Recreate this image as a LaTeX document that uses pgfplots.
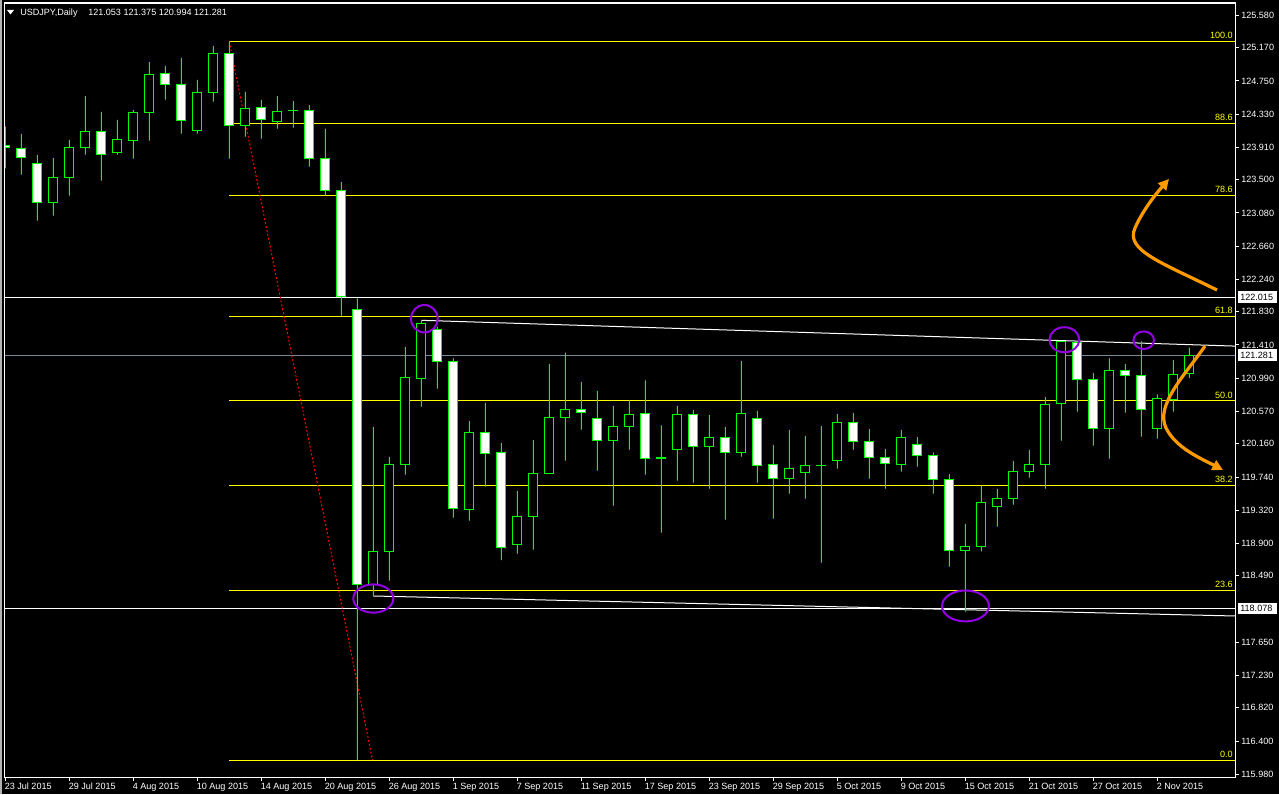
\documentclass[border=0pt]{standalone}
\usepackage{fontspec}
\setmainfont{Liberation Sans}
\usepackage{pgfplots}
\pgfplotsset{compat=1.18}
\usepackage{pgfplotstable}
\usetikzlibrary{arrows.meta}
\definecolor{mtgreen}{RGB}{0,255,0}
\definecolor{fibyellow}{RGB}{255,255,0}
\definecolor{bidgray}{RGB}{119,136,153}
\definecolor{circpurple}{RGB}{148,0,230}
\definecolor{arroworange}{RGB}{255,153,0}
\newcommand\tickfont{\fontsize{6.8}{8}\selectfont}

\pgfplotstableread{
k O H L C
0 123.936 124.171 123.645 123.902
1 123.898 124.079 123.564 123.784
2 123.708 123.813 122.982 123.215
3 123.215 123.775 123.045 123.531
4 123.531 124.003 123.298 123.910
5 123.910 124.559 123.817 124.113
6 124.113 124.357 123.488 123.822
7 123.847 124.256 123.817 124.012
8 123.999 124.382 123.766 124.353
9 124.353 124.989 123.994 124.834
10 124.846 124.939 124.512 124.707
11 124.707 125.040 124.082 124.252
12 124.125 124.762 124.082 124.606
13 124.606 125.192 124.487 125.099
14 125.099 125.248 123.766 124.189
15 124.189 124.610 124.044 124.404
16 124.416 124.509 124.019 124.265
17 124.239 124.559 124.146 124.366
18 124.370 124.496 124.158 124.376
19 124.378 124.445 123.665 123.771
20 123.771 124.142 123.298 123.366
21 123.366 123.471 121.780 122.021
22 121.861 122.000 116.160 118.383
23 118.383 120.372 118.235 118.800
24 118.795 119.993 118.428 119.901
25 119.901 121.384 119.769 121.001
26 120.984 121.722 120.629 121.684
27 121.608 121.641 120.857 121.204
28 121.204 121.242 119.225 119.342
29 119.332 120.448 119.188 120.306
30 120.306 120.676 119.617 120.040
31 120.053 120.170 118.690 118.851
32 118.889 119.563 118.770 119.243
33 119.243 120.208 118.821 119.787
34 119.787 121.169 119.780 120.495
35 120.495 121.309 119.946 120.596
36 120.591 120.942 120.338 120.559
37 120.483 120.828 119.820 120.204
38 120.204 120.638 119.377 120.381
39 120.381 120.710 120.085 120.533
40 120.546 120.963 119.769 119.977
41 119.980 120.394 119.036 119.988
42 120.091 120.638 119.693 120.533
43 120.533 120.588 119.668 120.123
44 120.123 120.524 119.592 120.242
45 120.242 120.372 119.200 120.048
46 120.048 121.207 119.997 120.546
47 120.483 120.575 119.668 119.883
48 119.901 120.145 119.213 119.719
49 119.719 120.335 119.529 119.850
50 119.795 120.259 119.466 119.888
51 119.880 120.385 118.656 119.886
52 119.951 120.537 119.845 120.432
53 120.432 120.550 120.085 120.192
54 120.192 120.347 119.719 119.989
55 119.989 120.094 119.592 119.913
56 119.901 120.335 119.807 120.242
57 120.154 120.246 119.870 120.015
58 120.015 120.053 119.529 119.711
59 119.711 119.778 118.606 118.813
60 118.813 119.146 118.036 118.864
61 118.864 119.635 118.800 119.420
62 119.370 119.588 119.112 119.471
63 119.471 119.943 119.390 119.812
64 119.812 120.082 119.731 119.901
65 119.901 120.752 119.592 120.660
66 120.672 121.460 120.199 121.457
67 121.444 121.448 120.566 120.976
68 120.976 121.056 120.136 120.356
69 120.356 121.242 119.972 121.090
70 121.090 121.169 120.553 121.027
71 121.027 121.457 120.250 120.596
72 120.356 120.786 120.225 120.736
73 120.723 121.220 120.566 121.039
74 121.053 121.375 120.994 121.281
}\candles

\pgfplotsset{base/.style={scale only axis, width=923.25pt, height=580.5pt,
  xmin=-0.08125, xmax=76.85625, ymin=115.9455, ymax=125.7356,
  at={(3pt,12.75pt)}, anchor=south west}}
\tikzset{fiblabel/.style={anchor=south east, inner sep=0pt, font=\tickfont, text=fibyellow, yshift=1.8pt}}

\begin{document}
\begin{tikzpicture}
\useasboundingbox (0,0) rectangle (959.25pt,595.5pt);
\fill[black] (0,0) rectangle (959.25pt,595.5pt);
\fill[black!30] (0,0) rectangle (1.5pt,595.5pt);

% axis 1: levels, lines, ticks
\begin{axis}[base,
  axis line style={white, line width=0.75pt},
  tick style={white, line width=0.75pt},
  tick align=outside, major tick length=3pt,
  xtick pos=left, ytick pos=right, xticklabel pos=left, yticklabel pos=right,
  xtick={0,4,...,72},
  xticklabels={23 Jul 2015, 29 Jul 2015, 4 Aug 2015, 10 Aug 2015, 14 Aug 2015, 20 Aug 2015, 26 Aug 2015, 1 Sep 2015, 7 Sep 2015, 11 Sep 2015, 17 Sep 2015, 23 Sep 2015, 29 Sep 2015, 5 Oct 2015, 9 Oct 2015, 15 Oct 2015, 21 Oct 2015, 27 Oct 2015, 2 Nov 2015},
  ytick={125.58,125.17,124.75,124.33,123.91,123.50,123.08,122.66,122.24,121.83,121.41,120.99,120.57,120.16,119.74,119.32,118.90,118.49,117.65,117.23,116.82,116.40,115.98},
  yticklabels={125.580,125.170,124.750,124.330,123.910,123.500,123.080,122.660,122.240,121.830,121.410,120.990,120.570,120.160,119.740,119.320,118.900,118.490,117.650,117.230,116.820,116.400,115.980},
  xticklabel style={anchor=north west, inner sep=0pt, font=\tickfont, text=white, xshift=-0.6pt, yshift=-1.5pt},
  yticklabel style={anchor=west, inner sep=0pt, font=\tickfont, text=white, xshift=1.5pt},
]
% horizontal lines
\addplot[white, line width=0.75pt] coordinates {(-0.08125,122.015) (76.85625,122.015)};
\addplot[white, line width=0.75pt] coordinates {(-0.08125,118.078) (76.85625,118.078)};
\addplot[bidgray, line width=0.75pt] coordinates {(-0.08125,121.281) (76.85625,121.281)};
% trend lines
\addplot[white, line width=0.75pt] coordinates {(26,121.722) (76.85625,121.396)};
\addplot[white, line width=0.75pt] coordinates {(23,118.235) (76.85625,117.982)};
% fibonacci levels
\addplot[fibyellow, line width=0.75pt] coordinates {(14,125.248) (76.85625,125.248)};
\addplot[fibyellow, line width=0.75pt] coordinates {(14,124.212) (76.85625,124.212)};
\addplot[fibyellow, line width=0.75pt] coordinates {(14,123.303) (76.85625,123.303)};
\addplot[fibyellow, line width=0.75pt] coordinates {(14,121.776) (76.85625,121.776)};
\addplot[fibyellow, line width=0.75pt] coordinates {(14,120.704) (76.85625,120.704)};
\addplot[fibyellow, line width=0.75pt] coordinates {(14,119.632) (76.85625,119.632)};
\addplot[fibyellow, line width=0.75pt] coordinates {(14,118.305) (76.85625,118.305)};
\addplot[fibyellow, line width=0.75pt] coordinates {(14,116.160) (76.85625,116.160)};
\addplot[red, line width=0.75pt, dash pattern=on 1.5pt off 1.5pt] coordinates {(14,125.248) (22.95,116.160)};
\node[fiblabel] at (axis cs:76.73,125.248) {100.0};
\node[fiblabel] at (axis cs:76.73,124.212) {88.6};
\node[fiblabel] at (axis cs:76.73,123.303) {78.6};
\node[fiblabel] at (axis cs:76.73,121.776) {61.8};
\node[fiblabel] at (axis cs:76.73,120.704) {50.0};
\node[fiblabel] at (axis cs:76.73,119.632) {38.2};
\node[fiblabel] at (axis cs:76.73,118.305) {23.6};
\node[fiblabel] at (axis cs:76.73,116.160) {0.0};
\end{axis}

% axis 2: wicks
\begin{axis}[base, hide axis, ybar stacked, bar width=0.75pt]
\addplot[draw=none, fill=none] table[x=k, y=L]{\candles};
\addplot[draw=none, fill=mtgreen] table[x=k, y expr={\thisrow{H}-\thisrow{L}}]{\candles};
\end{axis}

% axis 3: bodies
\begin{axis}[base, hide axis, ybar stacked, bar width=7pt]
\addplot[draw=none, fill=none] table[x=k, y expr={min(\thisrow{O},\thisrow{C})}]{\candles};
\addplot[draw=mtgreen, fill=black, line width=0.75pt] table[x=k, y expr={max(\thisrow{C}-\thisrow{O},0)}]{\candles};
\addplot[draw=mtgreen, fill=white, line width=0.75pt] table[x=k, y expr={max(\thisrow{O}-\thisrow{C},0)}]{\candles};
\end{axis}

% axis 4: circled points
\begin{axis}[base, hide axis, clip=false]
\addplot[draw=none] coordinates {(0,120)};
\draw[circpurple, line width=1.5pt] (axis cs:26.19,121.742) ellipse [x radius=10pt, y radius=10.3pt];
\draw[circpurple, line width=1.5pt] (axis cs:23.0,118.203) ellipse [x radius=15pt, y radius=10.6pt];
\draw[circpurple, line width=1.5pt] (axis cs:60.01,118.109) ellipse [x radius=17.6pt, y radius=11.6pt];
\draw[circpurple, line width=1.5pt] (axis cs:66.19,121.476) ellipse [x radius=11.2pt, y radius=9.4pt];
\draw[circpurple, line width=1.5pt] (axis cs:71.15,121.470) ellipse [x radius=7.7pt, y radius=6.6pt];
\end{axis}

% pixel-coordinate overlays
\begin{scope}[x=0.75pt, y=-0.75pt, shift={(0pt,595.5pt)}]
\draw[white, line width=0.75pt] (4,3) rectangle (1235,777);
\fill[white] (7,10) -- (14,10) -- (10.5,14.5) -- cycle;
\node[anchor=base west, inner sep=0pt, font=\tickfont, text=white] at (20,15.3) {USDJPY,Daily};
\node[anchor=base west, inner sep=0pt, font=\tickfont, text=white] at (88,15.3) {121.053 121.375 120.994 121.281};
\fill[white] (1238,291.5) rectangle (1277,303);
\node[anchor=west, inner sep=0pt, font=\tickfont, text=black] at (1240,297.2) {122.015};
\fill[white] (1238,349.5) rectangle (1277,361);
\node[anchor=west, inner sep=0pt, font=\tickfont, text=black] at (1240,355.2) {121.281};
\fill[white] (1238,602.8) rectangle (1277,614.3);
\node[anchor=west, inner sep=0pt, font=\tickfont, text=black] at (1240,608.5) {118.078};
\draw[arroworange, line width=2.4pt, -{Triangle[length=8pt, width=8pt]}] (1217,290) .. controls (1160,262) and (1125,250) .. (1135,228) .. controls (1142,212) and (1154,196) .. (1169,179);
\draw[arroworange, line width=2.4pt, -{Triangle[length=8pt, width=8pt]}] (1205,346) .. controls (1185,375) and (1155,405) .. (1166,428) .. controls (1176,448) and (1200,458) .. (1223,470);
\end{scope}
\end{tikzpicture}
\end{document}
